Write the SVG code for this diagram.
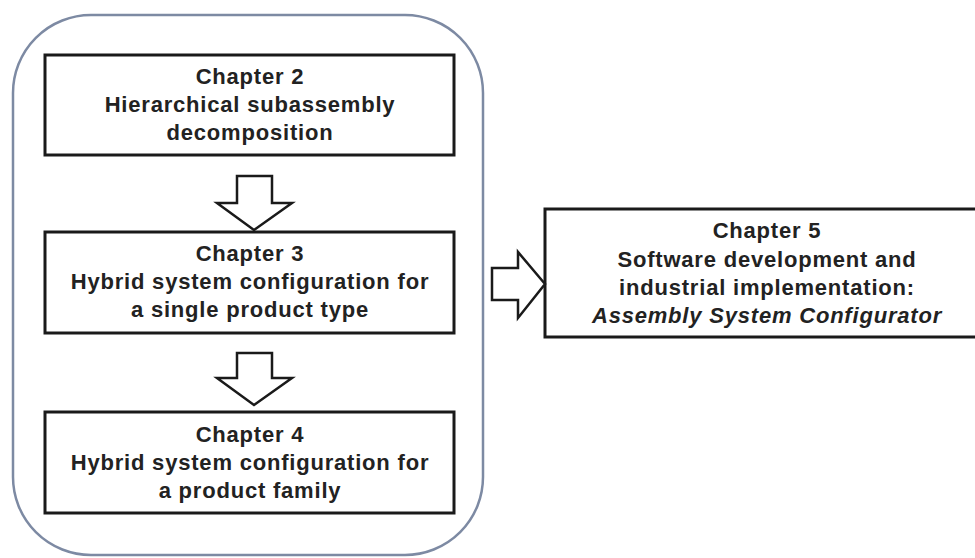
<svg xmlns="http://www.w3.org/2000/svg" width="975" height="558" viewBox="0 0 975 558">
<style>
.box{fill:#fff;stroke:#1a1a1a;stroke-width:3}
.arr{fill:#fff;stroke:#1a1a1a;stroke-width:2.5;stroke-linejoin:miter}
.t{font-family:"Liberation Sans",Arial,sans-serif;font-weight:bold;font-size:22px;letter-spacing:0.8px;fill:#222;text-anchor:middle}
.i{font-style:italic}
</style>
<rect width="975" height="558" fill="#fff"/>
<g id="group">
<rect x="13" y="15" width="470" height="540" rx="78" ry="78" fill="none" stroke="#7d8aa3" stroke-width="2.5"/>
</g>
<g id="ch2">
<rect class="box" x="45" y="55" width="409" height="100"/>
<text class="t" x="250" y="84">Chapter 2</text>
<text class="t" x="250" y="112">Hierarchical subassembly</text>
<text class="t" x="250" y="140">decomposition</text>
</g>
<g id="ch3">
<rect class="box" x="45" y="232" width="409" height="101"/>
<text class="t" x="250" y="261">Chapter 3</text>
<text class="t" x="250" y="289">Hybrid system configuration for</text>
<text class="t" x="250" y="317">a single product type</text>
</g>
<g id="ch4">
<rect class="box" x="45" y="412" width="409" height="101"/>
<text class="t" x="250" y="442">Chapter 4</text>
<text class="t" x="250" y="470">Hybrid system configuration for</text>
<text class="t" x="250" y="498">a product family</text>
</g>
<g id="ch5">
<rect class="box" x="545" y="209" width="440" height="128"/>
<text class="t" x="767" y="238">Chapter 5</text>
<text class="t" x="767" y="267">Software development and</text>
<text class="t" x="767" y="295">industrial implementation:</text>
<text class="t i" x="767" y="323">Assembly System Configurator</text>
</g>
<g id="connectors">
<polygon class="arr" points="237,176 272,176 272,203 292,203 254,230 217,203 237,203"/>
<polygon class="arr" points="237,353 272,353 272,378 292,378 254,405 217,378 237,378"/>
<polygon class="arr" points="492,268 518,268 518,252 545,284 518,318 518,300 492,300"/>
</g>
</svg>
